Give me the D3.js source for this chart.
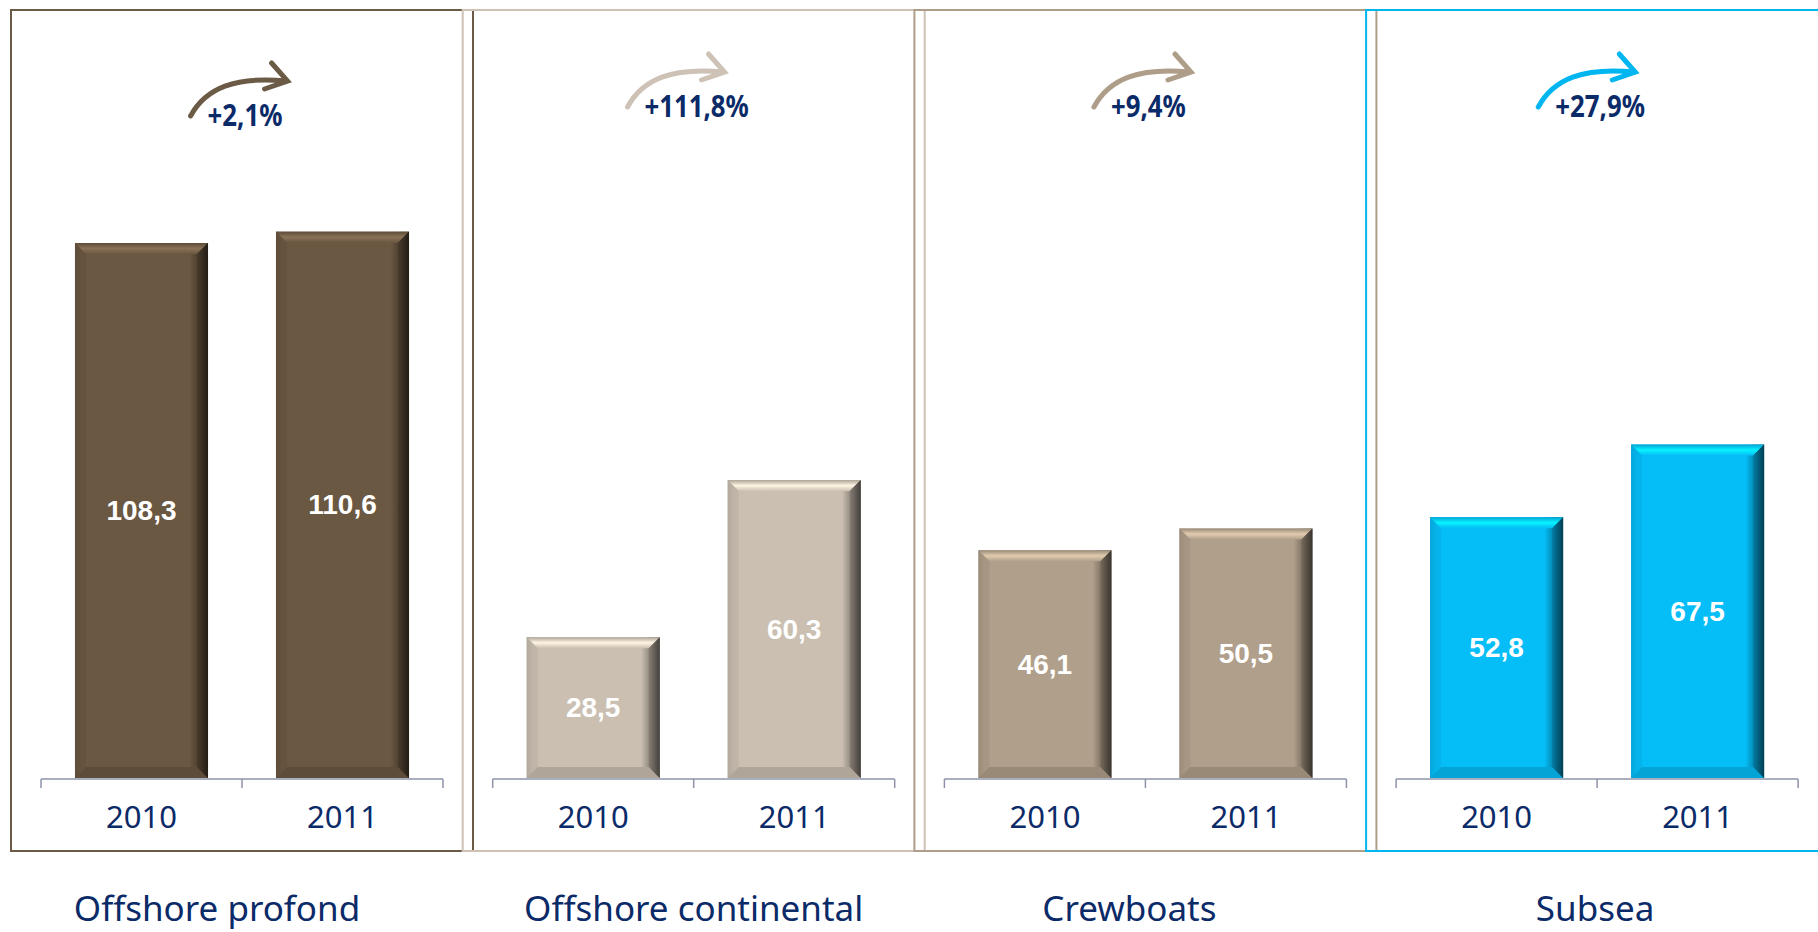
<!DOCTYPE html>
<html>
<head>
<meta charset="utf-8">
<script src="https://cdn.jsdelivr.net/npm/d3@7"></script>
<style>
  html, body { margin: 0; padding: 0; background: #ffffff; }
  svg { display: block; }
</style>
</head>
<body>
<svg id="chart" width="1818" height="932"></svg>
<script>
// ---------------- data ----------------
const segments = ["Offshore profond", "Offshore continental", "Crewboats", "Subsea"];
const categories = ["2010", "2011"];
const values2010 = [108.3, 28.5, 46.1, 52.8];
const values2011 = [110.6, 60.3, 50.5, 67.5];
const growthLabels = ["+2,1%", "+111,8%", "+9,4%", "+27,9%"];

// ---------------- style / layout ----------------
const barColors    = ["#6b5842", "#cabfb1", "#b09f8a", "#05bdf7"];
const borderColors = ["#6b5a45", "#cdc2b5", "#ad9d89", "#00b6f0"];
const navy = "#0b2a68";
const axisColor = "#8d94a8";
const panelStep = 451.7;
const panelW = 462, panelX0 = 11, panelTop = 10, panelBottom = 851;
const axisX0 = 41, axisW = 402, baseY = 778;
const growthDy = [9, 0, 0, 0];
const titleDx = [-25, 0, -16, -2];

const frLocale = d3.formatLocale({decimal: ",", thousands: " ", grouping: [3], currency: ["", " €"]});
const fmt = frLocale.format(".1f");

const svg = d3.select("#chart");
const defs = svg.append("defs");

const y = d3.scaleLinear().domain([0, 120]).range([baseY, baseY - 120 * 4.94]);
const x = d3.scaleBand().domain(categories).range([0, axisW]).paddingInner(0.338).paddingOuter(0.169);

// gradients per colour
barColors.forEach((c, i) => {
  const base = d3.color(c);
  const body = defs.append("linearGradient").attr("id", "body" + i).attr("x1", 0).attr("x2", 1).attr("y1", 0).attr("y2", 0);
  body.append("stop").attr("offset", "0%").attr("stop-color", base.darker(0.5));
  body.append("stop").attr("offset", "5%").attr("stop-color", base);
  body.append("stop").attr("offset", "86%").attr("stop-color", base);
  body.append("stop").attr("offset", "100%").attr("stop-color", base.darker(2.6));
  const top = defs.append("linearGradient").attr("id", "top" + i).attr("x1", 0).attr("x2", 0).attr("y1", 0).attr("y2", 1);
  top.append("stop").attr("offset", "0%").attr("stop-color", base.darker(0.4));
  top.append("stop").attr("offset", "50%").attr("stop-color", base.brighter(0.7));
  top.append("stop").attr("offset", "100%").attr("stop-color", base);
  const right = defs.append("linearGradient").attr("id", "right" + i).attr("x1", 0).attr("x2", 1).attr("y1", 0).attr("y2", 0);
  right.append("stop").attr("offset", "0%").attr("stop-color", base.darker(1.2));
  right.append("stop").attr("offset", "100%").attr("stop-color", base.darker(3.2));
});

function bevelBar(g, bx, by, bw, bh, i) {
  const b = Math.min(11, bh / 2);
  g.append("rect").attr("x", bx).attr("y", by).attr("width", bw).attr("height", bh).attr("fill", `url(#body${i})`);
  g.append("polygon").attr("points", [[bx, by], [bx + bw, by], [bx + bw - b, by + b], [bx + b, by + b]].join(" "))
    .attr("fill", `url(#top${i})`);
  g.append("polygon").attr("points", [[bx, by + bh], [bx + bw, by + bh], [bx + bw - b, by + bh - b], [bx + b, by + bh - b]].join(" "))
    .attr("fill", d3.color(barColors[i]).darker(0.4));
  g.append("polygon").attr("points", [[bx + bw, by], [bx + bw, by + bh], [bx + bw - b, by + bh - b], [bx + bw - b, by + b]].join(" "))
    .attr("fill", `url(#right${i})`).attr("opacity", 0.85);
  g.append("polygon").attr("points", [[bx, by], [bx, by + bh], [bx + b, by + bh - b], [bx + b, by + b]].join(" "))
    .attr("fill", d3.color(barColors[i]).darker(0.25)).attr("opacity", 0.6);
}

segments.forEach((seg, i) => {
  const off = i * panelStep;
  svg.append("rect")
    .attr("x", panelX0 + off).attr("y", panelTop)
    .attr("width", i === 3 ? 500 : panelW).attr("height", panelBottom - panelTop)
    .attr("fill", "none").attr("stroke", borderColors[i]).attr("stroke-width", 2);
});

segments.forEach((seg, i) => {
  const off = i * panelStep;
  const g = svg.append("g").attr("transform", `translate(${axisX0 + off},0)`);
  const vals = [values2010[i], values2011[i]];

  vals.forEach((v, j) => {
    const bx = x(categories[j]), bw = x.bandwidth();
    const by = y(v), bh = y(0) - y(v);
    bevelBar(g, bx, by, bw, bh, i);
    g.append("text")
      .attr("x", bx + bw / 2).attr("y", (by + y(0)) / 2)
      .attr("text-anchor", "middle").attr("dominant-baseline", "central")
      .attr("font-family", "Liberation Sans, Arial, sans-serif").attr("font-weight", "bold")
      .attr("font-size", 28).attr("fill", "#ffffff")
      .text(fmt(v));
  });

  // axis: baseline with boundary ticks
  const bounds = [0, x.step(), axisW];
  g.append("line").attr("x1", 0).attr("x2", axisW).attr("y1", y(0) + 1).attr("y2", y(0) + 1)
    .attr("stroke", axisColor).attr("stroke-width", 1.5);
  g.selectAll("line.tick").data(bounds).enter().append("line").attr("class", "tick")
    .attr("x1", d => d).attr("x2", d => d).attr("y1", y(0) + 1).attr("y2", y(0) + 10)
    .attr("stroke", axisColor).attr("stroke-width", 1.5);
  g.selectAll("text.cat").data(categories).enter().append("text").attr("class", "cat")
    .attr("x", d => x(d) + x.bandwidth() / 2).attr("y", 828)
    .attr("text-anchor", "middle")
    .attr("font-family", "Noto Sans, sans-serif").attr("font-size", 31).attr("fill", navy)
    .text(d => d);

  // growth label + arrow (condensed bold text)
  const cx = axisW / 2 + 3;
  const by = 117 + growthDy[i];
  const sxScale = 0.86;
  const tg = g.append("g").attr("transform", `translate(${cx},${by}) scale(${sxScale},1)`);
  const t = tg.append("text")
    .attr("x", 0).attr("y", 0).attr("text-anchor", "middle")
    .attr("font-family", "Noto Sans, sans-serif").attr("font-weight", "bold")
    .attr("font-size", 30).attr("fill", navy)
    .text(growthLabels[i]);
  const tw = t.node().getComputedTextLength() * sxScale;
  const sx = cx - tw / 2 - 17, sy = by - 10;
  const arrow = d3.path();
  arrow.moveTo(sx, sy);
  arrow.bezierCurveTo(sx + 15, sy - 28, sx + 45, sy - 40, sx + 96, sy - 35);
  arrow.moveTo(sx + 81, sy - 53);
  arrow.lineTo(sx + 97, sy - 35);
  arrow.lineTo(sx + 74, sy - 27);
  g.append("path").attr("d", arrow.toString())
    .attr("fill", "none").attr("stroke", borderColors[i]).attr("stroke-width", 5)
    .attr("stroke-linecap", "round").attr("stroke-linejoin", "miter");

  // segment title
  svg.append("text")
    .attr("x", axisX0 + off + axisW / 2 + titleDx[i]).attr("y", 921)
    .attr("text-anchor", "middle")
    .attr("font-family", "Noto Sans, sans-serif").attr("font-size", 35).attr("fill", navy)
    .text(seg);
});
</script>
</body>
</html>
